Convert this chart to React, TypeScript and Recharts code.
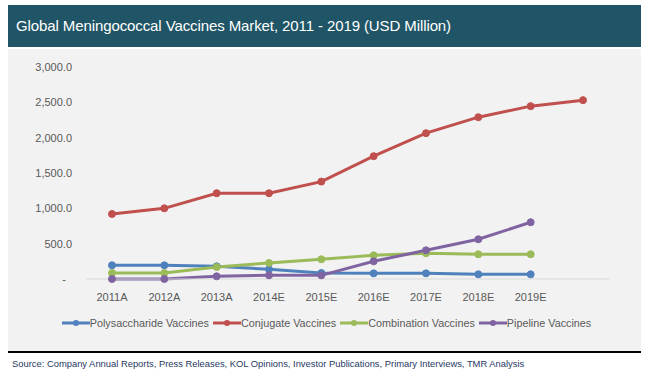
import React from "react";
import { LineChart, Line, XAxis, YAxis, Legend } from "recharts";

const years = ["2011A", "2012A", "2013A", "2014E", "2015E", "2016E", "2017E", "2018E", "2019E", ""];
const polysaccharide = [194, 194, 180, 137, 85, 80, 80, 66, 66, null];
const conjugate = [920, 1000, 1214, 1214, 1378, 1738, 2064, 2290, 2446, 2531];
const combination = [85, 85, 170, 227, 279, 335, 364, 350, 350, null];
const pipeline = [0, 0, 38, 52, 52, 250, 406, 562, 803, null];
const yTicks = [0, 500, 1000, 1500, 2000, 2500, 3000];

const SERIES = [
  { key: "poly", name: "Polysaccharide Vaccines", color: "#4F81BD" },
  { key: "conj", name: "Conjugate Vaccines", color: "#C0504D" },
  { key: "comb", name: "Combination Vaccines", color: "#9BBB59" },
  { key: "pipe", name: "Pipeline Vaccines", color: "#8064A2" },
];

const data = years.map((y, i) => ({
  year: y,
  poly: polysaccharide[i],
  conj: conjugate[i],
  comb: combination[i],
  pipe: pipeline[i],
}));

const FONT = "'Liberation Sans', Arial, sans-serif";

function YTick({ x, y, payload }: { x?: number; y?: number; payload?: { value: number } }) {
  const v = payload?.value ?? 0;
  const label = v === 0 ? "-" : v.toLocaleString("en-US", { minimumFractionDigits: 1 });
  return (
    <text
      x={(x ?? 0) - (v === 0 ? 6 : 0)}
      y={y}
      dy={4}
      textAnchor="end"
      fontSize={11}
      fill="#595959"
      fontFamily={FONT}
    >
      {label}
    </text>
  );
}

function LegendContent() {
  return (
    <div style={{ display: "flex", justifyContent: "center", alignItems: "center", fontFamily: FONT, fontSize: 10.8, color: "#595959" }}>
      {SERIES.map((s) => (
        <div key={s.key} style={{ display: "flex", alignItems: "center", marginRight: 4 }}>
          <svg width={28} height={10}>
            <line x1={0} y1={5} x2={28} y2={5} stroke={s.color} strokeWidth={3} />
            <circle cx={14} cy={5} r={3} fill={s.color} />
          </svg>
          <span>{s.name}</span>
        </div>
      ))}
    </div>
  );
}

export default function App() {
  return (
    <div style={{ position: "absolute", left: 0, top: 0, width: 649, height: 376, background: "#fff", overflow: "hidden" }}>
      <div
        style={{
          position: "absolute",
          left: 8,
          top: 5,
          width: 633,
          height: 42,
          background: "#1F5566",
          color: "#fff",
          fontFamily: FONT,
          fontSize: 15,
          letterSpacing: -0.1,
          lineHeight: "42px",
          paddingLeft: 8,
          boxSizing: "border-box",
        }}
      >
        Global Meningococcal Vaccines Market, 2011 - 2019 (USD Million)
      </div>
      <div style={{ position: "absolute", left: 8, top: 49, width: 633, height: 302, background: "#F2F2F2" }}>
        <LineChart width={633} height={302} data={data} margin={{ top: 18, right: 32, left: 0, bottom: 8 }}>
          <XAxis
            dataKey="year"
            axisLine={{ stroke: "#D9D9D9" }}
            tickLine={false}
            tick={{ fontSize: 11, fill: "#595959", fontFamily: FONT }}
            tickMargin={8}
            height={24}
            interval={0}
            padding={{ left: 26, right: 26 }}
          />
          <YAxis
            domain={[0, 3000]}
            ticks={yTicks}
            axisLine={false}
            tickLine={false}
            tickSize={0}
            tickMargin={14}
            width={78}
            tick={<YTick />}
          />
          <Legend
            verticalAlign="bottom"
            content={<LegendContent />}
            wrapperStyle={{ left: 0, width: 633, height: 40, paddingTop: 14, paddingLeft: 8, boxSizing: "border-box" }}
          />
          {SERIES.map((s) => (
            <Line
              key={s.key}
              dataKey={s.key}
              name={s.name}
              stroke={s.color}
              strokeWidth={3}
              dot={{ r: 3.5, fill: s.color, stroke: s.color, strokeWidth: 1 }}
              isAnimationActive={false}
              connectNulls={false}
            />
          ))}
        </LineChart>
      </div>
      <div style={{ position: "absolute", left: 8, top: 351, width: 633, height: 2, background: "#000" }} />
      <div
        style={{
          position: "absolute",
          left: 12,
          top: 358,
          fontFamily: FONT,
          fontSize: 9.4,
          color: "#1F3864",
          whiteSpace: "nowrap",
        }}
      >
        Source: Company Annual Reports, Press Releases, KOL Opinions, Investor Publications, Primary Interviews, TMR Analysis
      </div>
    </div>
  );
}
